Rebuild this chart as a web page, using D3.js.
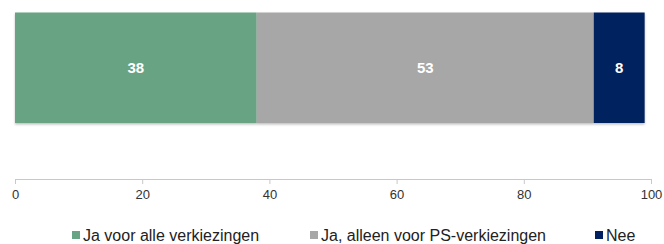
<!DOCTYPE html>
<html>
<head>
<meta charset="utf-8">
<script src="https://cdn.jsdelivr.net/npm/d3@7"></script>
<style>
  body { margin: 0; background: #fff; }
  svg text { font-family: "Liberation Sans", Arial, sans-serif; }
  .axis path, .axis line { stroke: #c8c8c8; }
  .axis text { fill: #333; font-size: 13px; }
</style>
</head>
<body>
<div class="graph"></div>
<script>
var categories = ["Ja voor alle verkiezingen", "Ja, alleen voor PS-verkiezingen", "Nee"];
var values = [38, 53, 8];
var colors = ["#68a383", "#a7a7a7", "#00205f"];
var ticks = [0, 20, 40, 60, 80, 100];

var width = 664, height = 244;
var margin = { top: 12, left: 15, right: 13, bottom: 65 };

var svg = d3.select(".graph").append("svg")
    .attr("width", width)
    .attr("height", height);

var defs = svg.append("defs");
var shadow = defs.append("filter").attr("id", "shadow")
    .attr("x", "-5%").attr("y", "-5%").attr("width", "110%").attr("height", "120%");
shadow.append("feDropShadow")
    .attr("dx", 0).attr("dy", 1.5).attr("stdDeviation", 1.2)
    .attr("flood-color", "#000").attr("flood-opacity", 0.25);

var xScale = d3.scaleLinear()
    .domain([0, 100])
    .range([margin.left, width - margin.right]);

// stack the segments
var segs = [];
var acc = 0;
values.forEach(function(v, i) {
  segs.push({ name: categories[i], value: v, x0: acc, x1: acc + v, color: colors[i] });
  acc += v;
});

var barTop = 12.5, barHeight = 110.5;

var bars = svg.append("g").attr("filter", "url(#shadow)");
bars.selectAll("rect")
    .data(segs)
  .enter().append("rect")
    .attr("x", function(d) { return xScale(d.x0); })
    .attr("y", barTop)
    .attr("width", function(d) { return xScale(d.x1) - xScale(d.x0); })
    .attr("height", barHeight)
    .attr("fill", function(d) { return d.color; });

svg.append("g").selectAll("text")
    .data(segs)
  .enter().append("text")
    .attr("x", function(d) { return (xScale(d.x0) + xScale(d.x1)) / 2; })
    .attr("y", barTop + barHeight / 2)
    .attr("dy", ".35em")
    .attr("text-anchor", "middle")
    .attr("fill", "#fff")
    .attr("font-weight", "bold")
    .attr("font-size", "15px")
    .text(function(d) { return d.value; });

// X axis
var xAxis = d3.axisBottom(xScale)
    .tickValues(ticks)
    .tickSize(5)
    .tickSizeOuter(0)
    .tickPadding(6);
svg.append("g")
    .attr("class", "axis")
    .attr("transform", "translate(0,179)")
    .call(xAxis);

// Legend
var legendX = [72, 310, 595];
var legend = svg.append("g").selectAll("g")
    .data(segs)
  .enter().append("g")
    .attr("transform", function(d, i) { return "translate(" + legendX[i] + ",231)"; });
legend.append("rect")
    .attr("width", 8)
    .attr("height", 8)
    .attr("fill", function(d) { return d.color; });
legend.append("text")
    .attr("x", 11)
    .attr("y", 10)
    .attr("font-size", "16px")
    .attr("fill", "#222")
    .text(function(d) { return d.name; });
</script>
</body>
</html>
